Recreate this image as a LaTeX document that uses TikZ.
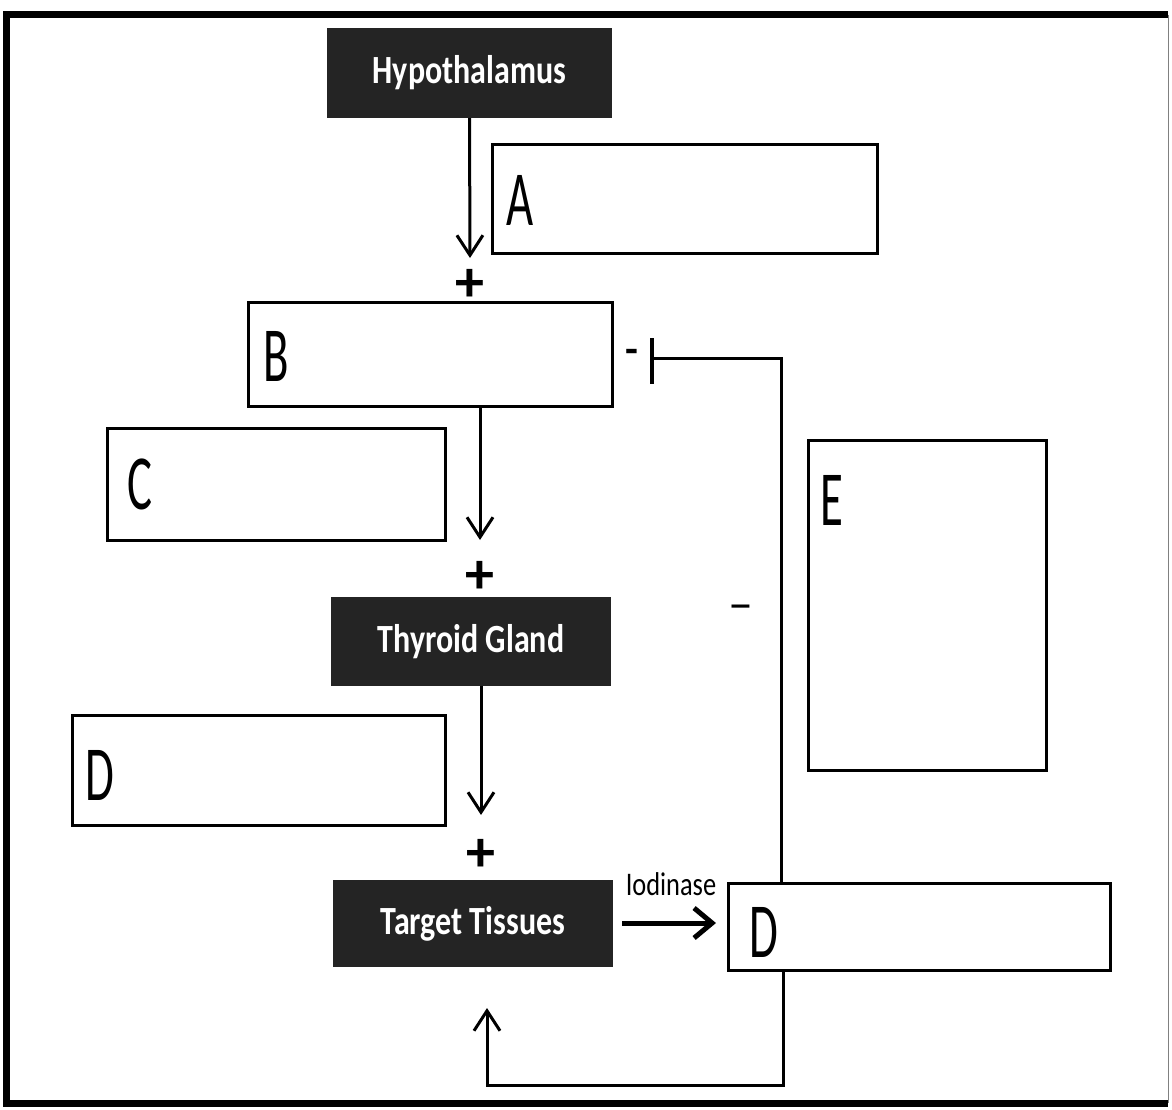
\documentclass[tikz,border=0pt]{standalone}
\usepackage{fontspec}
\setmainfont{Carlito}
\newfontfamily\darkfont{Carlito}[FakeStretch=0.8]
\newfontfamily\letterfont{Carlito}[FakeStretch=0.6]
\newfontfamily\labfont{Carlito}[FakeStretch=0.8]
\usetikzlibrary{arrows.meta,calc}
\begin{document}
\begin{tikzpicture}[x=1pt,y=-1pt,
  dark/.style={fill=black!86, text=white, inner sep=0pt, font=\darkfont\bfseries\fontsize{40}{42}\selectfont},
  lbox/.style={draw, line width=3pt, fill=white, inner sep=0pt},
  letter/.style={anchor=west, inner sep=0pt, font=\letterfont\fontsize{78}{80}\selectfont},
  plus/.style={inner sep=0pt, font=\bfseries\fontsize{58}{60}\selectfont},
  conn/.style={line width=3pt},
  arr/.style={conn, -{Straight Barb[length=20pt,width=26pt]}},
]
\useasboundingbox (0,0) rectangle (1172,1110);
% frame
\draw[line width=7pt] (1168,15) -- (6,15) -- (6,1103) -- (1168,1103);
\draw[line width=1pt, black!50] (1168,15) -- (1168,1103);

% dark nodes
\node[dark, minimum width=285, minimum height=90] (hyp) at (469.5,73) {Hypothalamus};
\node[dark, minimum width=280, minimum height=89] (thy) at (471,641.5) {Thyroid Gland};
\node[dark, minimum width=280, minimum height=87] (tgt) at (473,923.5) {Target Tissues};

% answer boxes
\node[lbox, minimum width=385, minimum height=108] (A) at (684.5,199) {};
\node[lbox, minimum width=364, minimum height=104] (B) at (430,354) {};
\node[lbox, minimum width=338, minimum height=112] (C) at (276,484) {};
\node[lbox, minimum width=238, minimum height=330] (E) at (927,605) {};
\node[lbox, minimum width=373, minimum height=110] (D1) at (258.5,770) {};
\node[lbox, minimum width=382, minimum height=87] (D2) at (919,926.5) {};

\node[letter] (lA) at ($(A.west)+(16,1)$) {A};
\node[letter] (lB) at ($(B.west)+(17,2)$) {B};
\node[letter] (lC) at ($(C.west)+(22,0)$) {C};
\node[letter] (lE) at ($(E.north west)+(14,62)$) {E};
\node[letter] (lD1) at ($(D1.west)+(15,5)$) {D};
\node[letter] (lD2) at ($(D2.west)+(23,6)$) {D};

% vertical arrows
\coordinate (t1) at (470,258);
\draw[arr] (hyp.south) -- (t1);
\node[plus] (p1) at (470,285) {+};

\coordinate (s2) at (480,406);
\coordinate (t2) at (480,540);
\draw[arr] (s2) -- (t2);
\node[plus] (p2) at (480,577) {+};

\coordinate (s3) at (481,686);
\coordinate (t3) at (481,815);
\draw[arr] (s3) -- (t3);
\node[plus] (p3) at (481,855) {+};

% iodinase
\coordinate (s4) at (622,923);
\coordinate (t4) at (716,923);
\draw[line width=5pt, -{Straight Barb[length=18pt,width=30pt]}] (s4) -- (t4);
\node[inner sep=0pt, font=\labfont\fontsize{33}{34}\selectfont] (iod) at (671,884) {Iodinase};

% inhibitory feedback
\coordinate (f1) at (781,883);
\coordinate (f2) at (781,358);
\coordinate (f3) at (652,358);
\draw[conn] (f1) -- (f2) -- (f3);
\draw[line width=4pt] (652,338) -- (652,384);
\node[inner sep=0pt, font=\bfseries\fontsize{42}{44}\selectfont] (m1) at (632,356) {-};
\node[inner sep=0pt, font=\fontsize{50}{52}\selectfont] (m2) at (741,613) {–};

% return loop
\coordinate (r1) at (783,970);
\coordinate (r2) at (783,1085);
\coordinate (r3) at (487,1085);
\coordinate (r4) at (487,1008);
\draw[conn, -{Straight Barb[length=20pt,width=26pt]}] (r1) -- (r2) -- (r3) -- (r4);
\end{tikzpicture}
\end{document}
